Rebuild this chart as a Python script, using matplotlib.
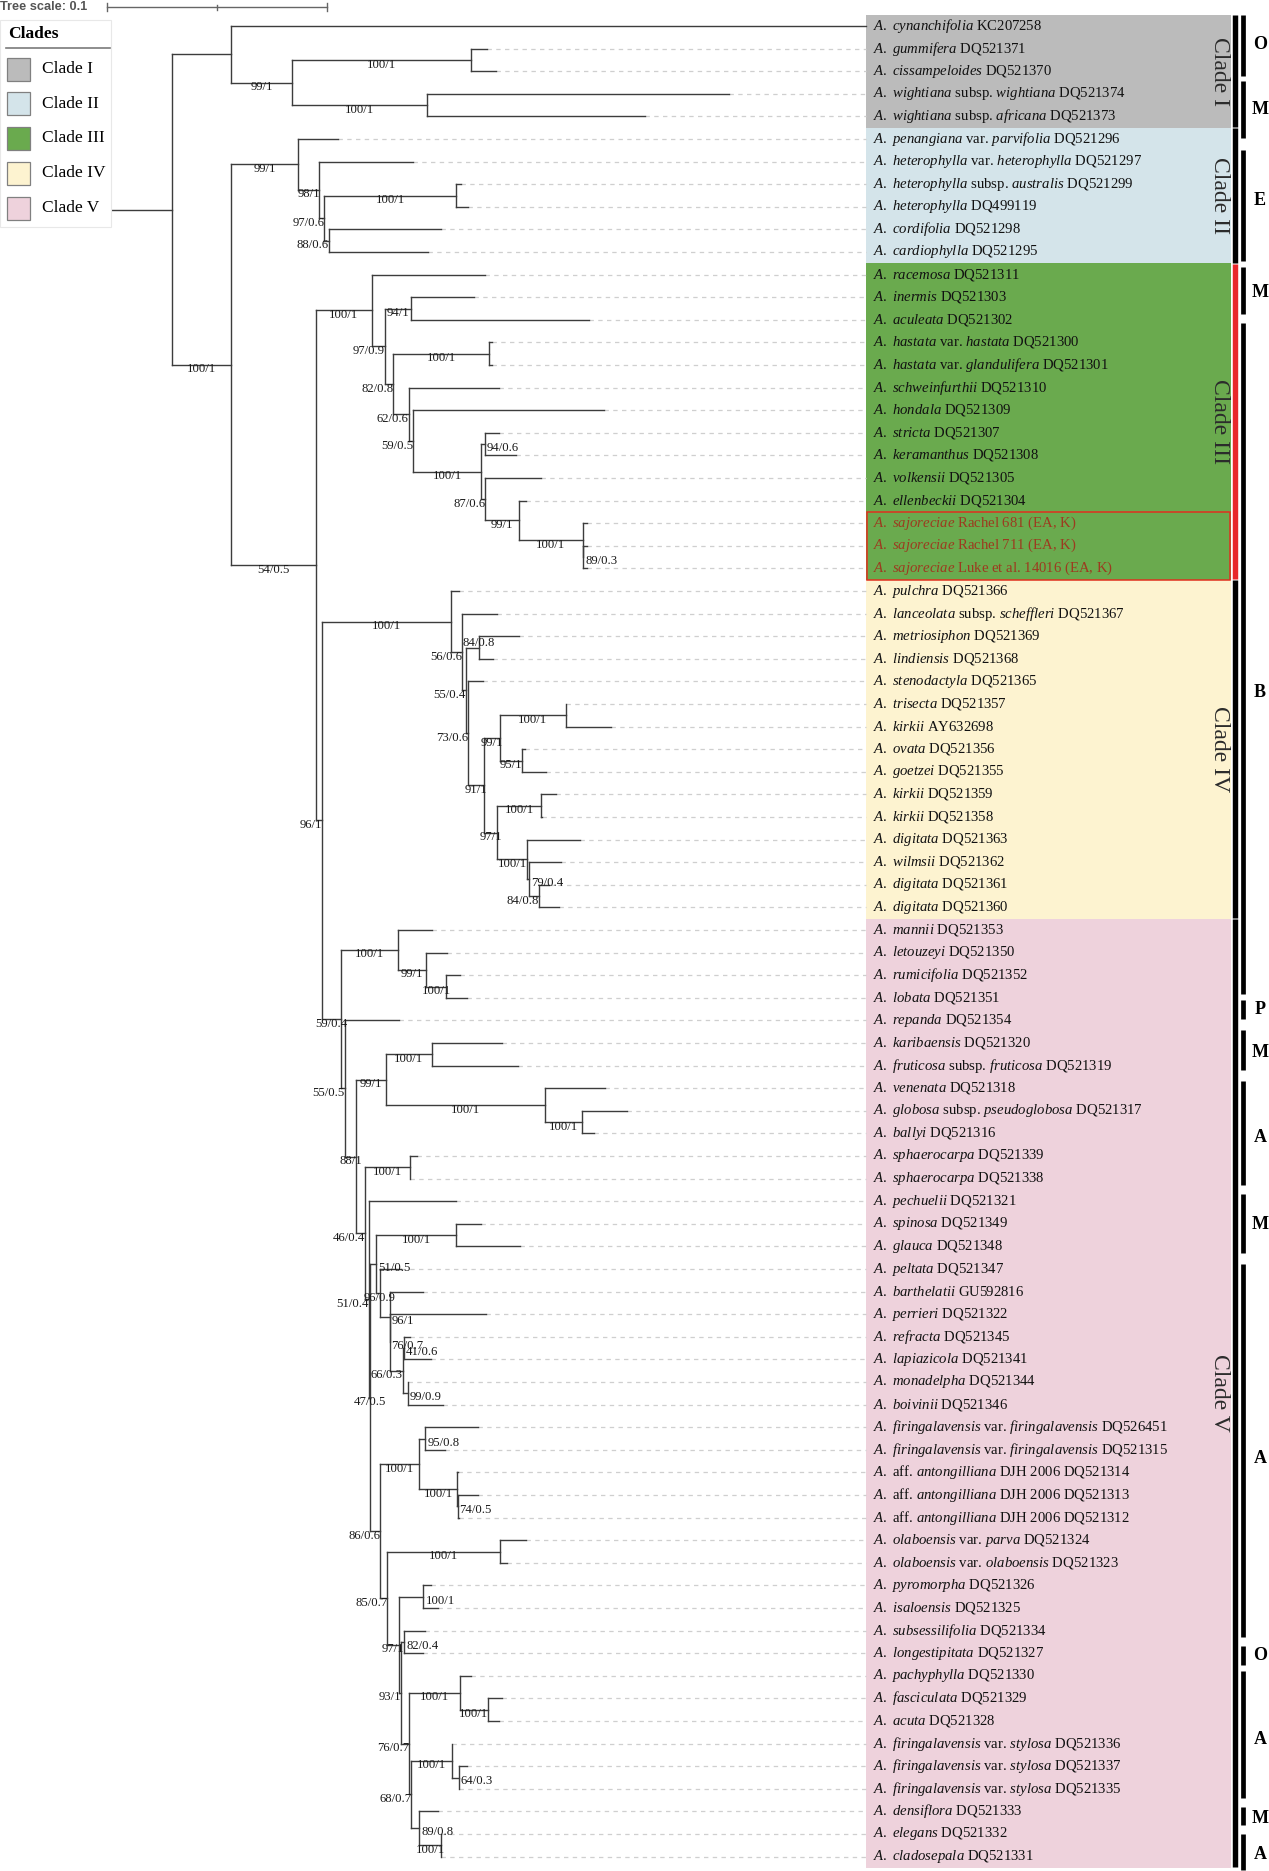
import matplotlib
matplotlib.use('Agg')
import matplotlib.pyplot as plt
from matplotlib.patches import Rectangle

# ---------------- data ----------------
TIP_LABELS = [
    "*A. cynanchifolia* KC207258",
    "*A. gummifera* DQ521371",
    "*A. cissampeloides* DQ521370",
    "*A. wightiana* subsp. *wightiana* DQ521374",
    "*A. wightiana* subsp. *africana* DQ521373",
    "*A. penangiana* var. *parvifolia* DQ521296",
    "*A. heterophylla* var. *heterophylla* DQ521297",
    "*A. heterophylla* subsp. *australis* DQ521299",
    "*A. heterophylla* DQ499119",
    "*A. cordifolia* DQ521298",
    "*A. cardiophylla* DQ521295",
    "*A. racemosa* DQ521311",
    "*A. inermis* DQ521303",
    "*A. aculeata* DQ521302",
    "*A. hastata* var. *hastata* DQ521300",
    "*A. hastata* var. *glandulifera* DQ521301",
    "*A. schweinfurthii* DQ521310",
    "*A. hondala* DQ521309",
    "*A. stricta* DQ521307",
    "*A. keramanthus* DQ521308",
    "*A. volkensii* DQ521305",
    "*A. ellenbeckii* DQ521304",
    "*A. sajoreciae* Rachel 681 (EA, K)",
    "*A. sajoreciae* Rachel 711 (EA, K)",
    "*A. sajoreciae* Luke et al. 14016 (EA, K)",
    "*A. pulchra* DQ521366",
    "*A. lanceolata* subsp. *scheffleri* DQ521367",
    "*A. metriosiphon* DQ521369",
    "*A. lindiensis* DQ521368",
    "*A. stenodactyla* DQ521365",
    "*A. trisecta* DQ521357",
    "*A. kirkii* AY632698",
    "*A. ovata* DQ521356",
    "*A. goetzei* DQ521355",
    "*A. kirkii* DQ521359",
    "*A. kirkii* DQ521358",
    "*A. digitata* DQ521363",
    "*A. wilmsii* DQ521362",
    "*A. digitata* DQ521361",
    "*A. digitata* DQ521360",
    "*A. mannii* DQ521353",
    "*A. letouzeyi* DQ521350",
    "*A. rumicifolia* DQ521352",
    "*A. lobata* DQ521351",
    "*A. repanda* DQ521354",
    "*A. karibaensis* DQ521320",
    "*A. fruticosa* subsp. *fruticosa* DQ521319",
    "*A. venenata* DQ521318",
    "*A. globosa* subsp. *pseudoglobosa* DQ521317",
    "*A. ballyi* DQ521316",
    "*A. sphaerocarpa* DQ521339",
    "*A. sphaerocarpa* DQ521338",
    "*A. pechuelii* DQ521321",
    "*A. spinosa* DQ521349",
    "*A. glauca* DQ521348",
    "*A. peltata* DQ521347",
    "*A. barthelatii* GU592816",
    "*A. perrieri* DQ521322",
    "*A. refracta* DQ521345",
    "*A. lapiazicola* DQ521341",
    "*A. monadelpha* DQ521344",
    "*A. boivinii* DQ521346",
    "*A. firingalavensis* var. *firingalavensis* DQ526451",
    "*A. firingalavensis* var. *firingalavensis* DQ521315",
    "*A.* aff. *antongilliana* DJH 2006 DQ521314",
    "*A.* aff. *antongilliana* DJH 2006 DQ521313",
    "*A.* aff. *antongilliana* DJH 2006 DQ521312",
    "*A. olaboensis* var. *parva* DQ521324",
    "*A. olaboensis* var. *olaboensis* DQ521323",
    "*A. pyromorpha* DQ521326",
    "*A. isaloensis* DQ521325",
    "*A. subsessilifolia* DQ521334",
    "*A. longestipitata* DQ521327",
    "*A. pachyphylla* DQ521330",
    "*A. fasciculata* DQ521329",
    "*A. acuta* DQ521328",
    "*A. firingalavensis* var. *stylosa* DQ521336",
    "*A. firingalavensis* var. *stylosa* DQ521337",
    "*A. firingalavensis* var. *stylosa* DQ521335",
    "*A. densiflora* DQ521333",
    "*A. elegans* DQ521332",
    "*A. cladosepala* DQ521331",
]
HIGHLIGHT_TIPS = [22, 23, 24]   # A. sajoreciae samples

# Newick pieces (branch lengths in substitutions/site, node label = ML bootstrap / PP)
# label suffix: '>' label right of node, '|' centred on node, '^' above the branch
CLADE_I = "(t0:0.2886,((t1:0.0075,t2:0.0114)100/1:0.0814,(t3:0.1373,t4:0.0991)100/1:0.0614)99/1:0.0277)"
CLADE_II = ("(t5:0.0180,(t6:0.0427,((t7:0.0023,t8:0.0055)100/1:0.0598,"
            "(t9:0.0509,t10:0.0449)88/0.6:0.0020)97/0.6:0.0025)98/1:0.0095)")
CLADE_III = ("(t11:0.0514,((t12:0.0286,t13:0.0808)94/1:0.0118,((t14:0.0015,t15:0.0015)100/1:0.0434,"
             "(t16:0.0410,(t17:0.0866,((t18:0.0066,t19:0.0143)94/0.6>:0.0016,(t20:0.0254,(t21:0.0032,"
             "(t22:0.0020,(t23:0.0016,t24:0.0016)89/0.3>:0.0003)100/1:0.0292)99/1:0.0151)87/0.6:0.0019)"
             "100/1:0.0308)59/0.5:0.0021)62/0.6:0.0070)82/0.8:0.0038)97/0.9:0.0059)")
CLADE_IV = ("(t25:0.0036,(t26:0.0160,((t27:0.0185,t28:0.0064)84/0.8^:0.0059,(t29:0.0068,"
            "(((t30:0.0000,t31:0.0207)100/1:0.0300,(t32:0.0016,t33:0.0109)95/1:0.0100)99/1:0.0070,"
            "((t34:0.0069,t35:0.0005)100/1:0.0199,(t36:0.0240,(t37:0.0145,(t38:0.0043,t39:0.0088)"
            "84/0.8:0.0045)79/0.4>:0.0011)100/1:0.0135)97/1:0.0059)91/1:0.0073)73/0.6:0.0011)"
            "55/0.4:0.0016)56/0.6:0.0052)")
CLADE_V = ("((t40:0.0154,(t41:0.0095,(t42:0.0066,t43:0.0095)100/1:0.0090)99/1:0.0128)100/1:0.0258,"
           "(t44:0.0245,(((t45:0.0319,t46:0.0394)100/1:0.0209,(t47:0.0271,(t48:0.0203,t49:0.0054)"
           "100/1:0.0169)100/1:0.0725)99/1:0.0134,((t50:0.0035,t51:0.0001)100/1:0.0203,(t52:0.0394,"
           "(((t53:0.0112,t54:0.0290)100/1:0.0362,(t55:0.0099,(t56:0.0150,(t57:0.0440,"
           "((t58:0.0026,t59:0.0125)41/0.6>:0.0005,(t60:0.0000,t61:0.0159)99/0.9>:0.0023)66/0.3:0.0060)"
           "76/0.7>:0.0000)96/1>:0.0045)96/0.9|:0.0015)51/0.5>:0.0028,"
           "(((t62:0.0239,t63:0.0091)95/0.8>:0.0027,(t64:0.0004,(t65:0.0095,t66:0.0005)74/0.5>:0.0004)"
           "100/1:0.0170)100/1:0.0177,((t67:0.0120,t68:0.0032)100/1:0.0512,((t69:0.0032,t70:0.0067)"
           "100/1>:0.0112,((t71:0.0096,t72:0.0085)82/0.4>:0.0013,((t73:0.0051,(t74:0.0064,t75:0.0051)"
           "100/1:0.0130)100/1:0.0228,((t76:0.0000,(t77:0.0037,t78:0.0000)64/0.3>:0.0029)100/1:0.0187,"
           "(t79:0.0086,(t80:0.0000,t81:0.0000)100/1:0.0099)89/0.8>:0.0037)68/0.7:0.0008)76/0.7:0.0037)"
           "93/1:0.0011)97/1:0.0052)85/0.7:0.0032)86/0.6:0.0046)47/0.5|:0.0005)51/0.4:0.0019)"
           "46/0.4:0.0040)88/1:0.0052)55/0.5:0.0016)")
BACKBONE = ("({I}:0.0268,({II}99/1:0.0305,({III}100/1:0.0255,({IV}100/1:0.0586,{V}59/0.4:0.0088)"
            "96/1:0.0027)54/0.5:0.0386)100/1:0.0268)")
ROOT_STEM = 0.0273

CLADE_NAMES = ["Clade I", "Clade II", "Clade III", "Clade IV", "Clade V"]
CLADE_FIRST = [0, 5, 11, 25, 40]
CLADE_LAST = [4, 10, 24, 39, 81]
CLADE_COLORS = ["#bbbbbb", "#d4e4ea", "#6aaa4e", "#fdf3d0", "#eed2dc"]
CLADE_BAR_COLORS = ["black", "black", "#e8282b", "black", "black"]

# distribution bars on the right (row units)
REGION_LETTERS = ["O", "M", "E", "M", "B", "P", "M", "A", "M", "A", "O", "A", "M", "A"]
REGION_START = [-0.5, 2.45, 5.5, 10.68, 13.16, 43.08, 44.42, 46.7, 51.7, 54.8, 71.7, 72.8, 78.8, 80.0]
REGION_END = [2.2, 4.97, 10.4, 12.74, 42.83, 43.94, 46.2, 51.3, 54.3, 71.3, 72.5, 78.4, 79.6, 81.6]
REGION_LETTER_ROW = [0.8, 3.7, 7.7, 11.8, 29.5, 43.5, 45.4, 49.2, 53.05, 63.4, 72.1, 75.8, 79.3, 80.9]

SCALE_LENGTH = 0.1

# ---------------- layout ----------------
W, H = 1269, 1871
ROOT_PX, PX_PER_UNIT = 172, 2200
ROW0_PX, ROW_PX = 26, 22.6
BOX_L, BOX_R = 866, 1231
LINE_C = "#3c3c3c"


def u(px):
    return (px - ROOT_PX) / PX_PER_UNIT


def r(py):
    return (py - ROW0_PX) / ROW_PX


def parse_newick(s):
    s = s.replace(" ", "")
    pos = 0

    def node():
        nonlocal pos
        kids = []
        if s[pos] == "(":
            pos += 1
            kids.append(node())
            while s[pos] == ",":
                pos += 1
                kids.append(node())
            pos += 1
        start = pos
        while pos < len(s) and s[pos] not in ":,()":
            pos += 1
        name = s[start:pos]
        length = 0.0
        if pos < len(s) and s[pos] == ":":
            pos += 1
            start = pos
            while pos < len(s) and s[pos] not in ",()":
                pos += 1
            length = float(s[start:pos])
        return {"name": name, "len": length, "kids": kids}

    return node()


def layout(n, x0):
    n["x"] = x0 + n["len"]
    if n["kids"]:
        for k in n["kids"]:
            layout(k, n["x"])
        n["y"] = (n["kids"][0]["y"] + n["kids"][-1]["y"]) / 2
    else:
        n["y"] = int(n["name"][1:])


def walk(n, parent=None):
    yield n, parent
    for k in n["kids"]:
        yield from walk(k, n)


def mathlabel(txt):
    parts = txt.split("*")
    out = ""
    for i, p in enumerate(parts):
        if i % 2:
            out += r"$\mathit{" + p.replace(" ", r"\ ") + "}$"
        else:
            out += p
    return out


plt.rcParams["font.family"] = ["Liberation Serif", "DejaVu Serif"]
plt.rcParams["mathtext.fontset"] = "custom"
plt.rcParams["mathtext.rm"] = "Liberation Serif"
plt.rcParams["mathtext.it"] = "Liberation Serif:italic"

tree = parse_newick(BACKBONE.format(I=CLADE_I, II=CLADE_II, III=CLADE_III, IV=CLADE_IV, V=CLADE_V))
tree["len"] = 0.0
layout(tree, 0.0)

fig = plt.figure(figsize=(W / 100, H / 100), dpi=100)
ax = fig.add_axes([0, 0, 1, 1])
ax.set_xlim(u(0), u(W))
ax.set_ylim(r(H), r(0))
ax.axis("off")

# clade colour bands behind the tip labels
for name, a, b, col in zip(CLADE_NAMES, CLADE_FIRST, CLADE_LAST, CLADE_COLORS):
    ax.add_patch(Rectangle((u(BOX_L), a - 0.5), u(BOX_R) - u(BOX_L), b - a + 1,
                           facecolor=col, edgecolor="none", zorder=0))
    ax.text(u(1219), (a + b) / 2, name, rotation=-90, ha="center", va="center",
            fontsize=17, color="#2b2b2b")

# branches
SUP_FS = 9.2
sup_px = SUP_FS * 100 / 72
for n, p in walk(tree):
    if n["kids"]:
        ax.plot([n["x"], n["x"]], [n["kids"][0]["y"], n["kids"][-1]["y"]],
                color=LINE_C, lw=1.0, solid_capstyle="projecting", zorder=2)
    x0 = p["x"] if p is not None else -ROOT_STEM
    ax.plot([x0, n["x"]], [n["y"], n["y"]], color=LINE_C, lw=1.0,
            solid_capstyle="projecting", zorder=2)
    if not n["kids"]:
        if n["x"] < u(BOX_L):
            ax.plot([n["x"], u(BOX_L)], [n["y"], n["y"]], color="#cfcfcf", lw=0.9,
                    dashes=(3.5, 3.5), zorder=1)
        continue
    lab = n["name"]
    if not lab:
        continue
    mode = lab[-1] if lab[-1] in ">|^" else "c"
    txt = lab.rstrip(">|^")
    w = sum(0.5 if c.isdigit() else 0.278 if c == "/" else 0.25 for c in txt) * sup_px
    stem = n["len"] * PX_PER_UNIT
    kw = dict(fontsize=SUP_FS, color="#1a1a1a", zorder=3)
    if mode == "c":
        if stem >= 0.5 * w:
            ax.text(n["x"] - n["len"] / 2, n["y"] - 1.4 / ROW_PX, txt, ha="center", va="top", **kw)
        else:
            ax.text(n["x"], n["y"] - 1.4 / ROW_PX, txt, ha="right", va="top", **kw)
    elif mode == ">":
        ax.text(n["x"] + 2 / PX_PER_UNIT, n["y"] + 4 / ROW_PX, txt, ha="left", va="center", **kw)
    elif mode == "|":
        ax.text(n["x"], n["y"] - 1.4 / ROW_PX, txt, ha="center", va="top", **kw)
    else:
        ax.text(n["x"], n["y"] - 2 / ROW_PX, txt, ha="center", va="baseline", **kw)

# tip labels
for i, lab in enumerate(TIP_LABELS):
    col = "#9c3b1f" if i in HIGHLIGHT_TIPS else "#111111"
    ax.text(u(873), i, mathlabel(lab), ha="left", va="center", fontsize=10.6, color=col, zorder=3)

ax.add_patch(Rectangle((u(BOX_L + 0.5), HIGHLIGHT_TIPS[0] - 0.5), u(BOX_R - 1) - u(BOX_L + 0.5),
                       len(HIGHLIGHT_TIPS), fill=False, edgecolor="#e0301e", lw=1.1, zorder=3))

# clade bars and distribution bars
for a, b, col in zip(CLADE_FIRST, CLADE_LAST, CLADE_BAR_COLORS):
    ax.plot([u(1234.5), u(1234.5)], [a - 0.47, b + 0.47], color=col, lw=3.9,
            solid_capstyle="butt", zorder=2)
for let, a, b, yl in zip(REGION_LETTERS, REGION_START, REGION_END, REGION_LETTER_ROW):
    ax.plot([u(1242.5), u(1242.5)], [a, b], color="black", lw=3.4, solid_capstyle="butt")
    ax.text(u(1260), yl, let, ha="center", va="center", fontsize=13, fontweight="bold")

# legend
ax.add_patch(Rectangle((u(0), r(20)), u(111) - u(0), r(227) - r(20), facecolor="white",
                       edgecolor="#e8e8e8", lw=0.8, zorder=4))
ax.text(u(8), r(34), "Clades", ha="left", va="center", fontsize=12.5, fontweight="bold", zorder=5)
ax.plot([u(6), u(110)], [r(48), r(48)], color="#7a7a7a", lw=1.2, zorder=5)
for k, (name, col) in enumerate(zip(CLADE_NAMES, CLADE_COLORS)):
    cy = 69 + 34.75 * k
    ax.add_patch(Rectangle((u(7), r(cy - 11.5)), u(30) - u(7), r(cy + 11.5) - r(cy - 11.5),
                           facecolor=col, edgecolor="#808080", lw=0.9, zorder=5))
    ax.text(u(42), r(cy), name, ha="left", va="center", fontsize=12.5, zorder=5)

# tree scale
ys = r(7)
x0 = u(107)
ax.plot([x0, x0 + SCALE_LENGTH], [ys, ys], color="#666666", lw=1.0)
for xt, hh in [(x0, 4), (x0 + SCALE_LENGTH / 2, 2.5), (x0 + SCALE_LENGTH, 4)]:
    ax.plot([xt, xt], [ys - hh / ROW_PX, ys + hh / ROW_PX], color="#666666", lw=1.0)
ax.text(u(0), ys, "Tree scale: 0.1", ha="left", va="center", fontsize=9.2,
        fontweight="bold", color="#555555", family="Liberation Sans")

fig.savefig("out.png", dpi=100)
